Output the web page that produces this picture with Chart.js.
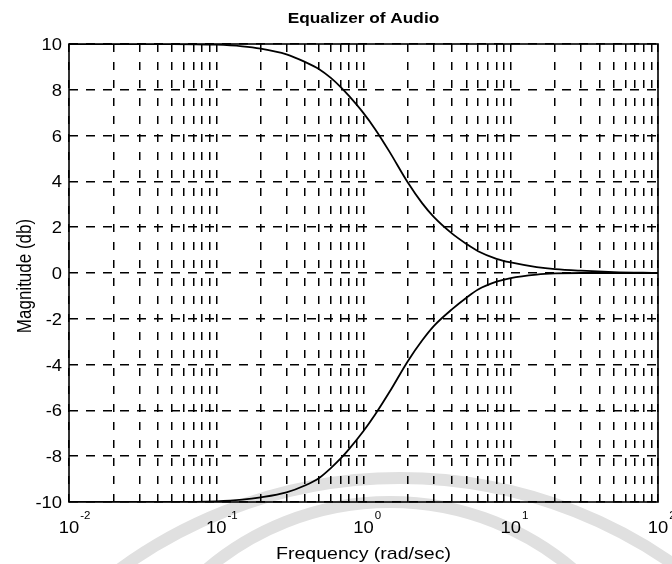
<!DOCTYPE html>
<html>
<head>
<meta charset="utf-8">
<title>Equalizer of Audio</title>
<script src="https://cdn.jsdelivr.net/npm/chart.js@4/dist/chart.umd.min.js"></script>
<style>
  html, body { margin: 0; padding: 0; background: #ffffff; }
  #wrap { width: 672px; height: 564px; }
</style>
</head>
<body>
<div id="wrap"><canvas id="c" width="672" height="564"></canvas></div>
<script>
// Frequency samples (rad/sec) and magnitude response of the two shelving sections (dB)
const frequencies = [0.01, 0.02, 0.05, 0.1, 0.15, 0.2, 0.3, 0.4, 0.5, 0.6, 0.7, 0.8, 1, 1.2, 1.5, 2, 2.5, 3, 4, 5, 6, 8, 10, 15, 20, 30, 50, 100];
const boostDb = [10, 10, 10, 9.97, 9.9, 9.8, 9.55, 9.22, 8.9, 8.52, 8.12, 7.72, 6.98, 6.28, 5.3, 3.95, 3.05, 2.45, 1.72, 1.27, 0.95, 0.62, 0.46, 0.26, 0.17, 0.1, 0.04, 0];
const cutDb = [-10, -10, -10, -9.97, -9.9, -9.8, -9.58, -9.28, -8.95, -8.52, -8.1, -7.68, -6.9, -6.18, -5.2, -3.85, -2.95, -2.32, -1.58, -1.08, -0.72, -0.38, -0.22, -0.07, -0.02, 0, 0, 0];

// Axis ticks
const decades = [0.01, 0.1, 1, 10, 100];
const decadeExponents = ['-2', '-1', '0', '1', '2'];
const magnitudeTicks = [-10, -8, -6, -4, -2, 0, 2, 4, 6, 8, 10];

// Text
const chartTitle = 'Equalizer of Audio';
const xAxisTitle = 'Frequency (rad/sec)';
const yAxisTitle = 'Magnitude (db)';

const FONT = '"Liberation Sans", Arial, Helvetica, sans-serif';
const TEXT_WIDEN = 1.15;   // wide Helvetica look

// Log grid: every integer multiple of each decade
const logGrid = [];
for (let d = 0; d < decades.length - 1; d++) {
  for (let m = 1; m <= 9; m++) logGrid.push(decades[d] * m);
}
logGrid.push(decades[decades.length - 1]);

const toPoints = (ys) => frequencies.map((f, i) => ({ x: f, y: ys[i] }));

// Draw text widened along its own horizontal direction
function wideText(ctx, text, x, y, font, align, angle, baseline) {
  ctx.save();
  ctx.translate(x, y);
  if (angle) ctx.rotate(angle);
  if (angle) ctx.scale(1, TEXT_WIDEN); else ctx.scale(TEXT_WIDEN, 1);
  ctx.font = font;
  ctx.textAlign = align;
  ctx.textBaseline = baseline || 'alphabetic';
  ctx.fillText(text, 0, 0);
  ctx.restore();
}

// Faint background arcs
const backdropArcs = {
  id: 'backdropArcs',
  beforeDraw(chart) {
    const ctx = chart.ctx;
    ctx.save();
    ctx.fillStyle = '#ffffff';
    ctx.fillRect(0, 0, chart.width, chart.height);
    ctx.strokeStyle = '#e0e0e0';
    ctx.lineWidth = 12;
    ctx.beginPath();
    ctx.arc(400, 954, 476, Math.PI, 2 * Math.PI);
    ctx.stroke();
    ctx.beginPath();
    ctx.arc(390, 785, 283, Math.PI, 2 * Math.PI);
    ctx.stroke();
    ctx.restore();
  }
};

// Frame, title, tick labels and axis titles
const annotations = {
  id: 'annotations',
  afterDraw(chart) {
    const ctx = chart.ctx;
    const a = chart.chartArea;
    const xs = chart.scales.x;
    const ys = chart.scales.y;
    ctx.save();
    ctx.strokeStyle = '#000';
    ctx.lineWidth = 1.6;
    ctx.setLineDash([]);
    ctx.strokeRect(a.left, a.top, a.right - a.left, a.bottom - a.top);
    ctx.fillStyle = '#000';

    wideText(ctx, chartTitle, (a.left + a.right) / 2, 23, 'bold 15px ' + FONT, 'center');

    magnitudeTicks.forEach((v) => {
      wideText(ctx, String(v), a.left - 7, ys.getPixelForValue(v) + 6, '16px ' + FONT, 'right');
    });

    decades.forEach((v, i) => {
      const px = xs.getPixelForValue(v);
      ctx.font = '16px ' + FONT;
      const w = ctx.measureText('10').width * TEXT_WIDEN;
      wideText(ctx, '10', px, 533, '16px ' + FONT, 'center');
      wideText(ctx, decadeExponents[i], px + w / 2 + 1, 519, '10px ' + FONT, 'left');
    });

    wideText(ctx, xAxisTitle, (a.left + a.right) / 2, 559, '17px ' + FONT, 'center');
    wideText(ctx, yAxisTitle, 31, (a.top + a.bottom) / 2 + 3, '17px ' + FONT, 'center', -Math.PI / 2);
    ctx.restore();
  }
};

new Chart(document.getElementById('c'), {
  type: 'line',
  data: {
    datasets: [
      { label: 'Boost', data: toPoints(boostDb), borderColor: '#000', borderWidth: 1.8, pointRadius: 0, cubicInterpolationMode: 'monotone', fill: false },
      { label: 'Cut', data: toPoints(cutDb), borderColor: '#000', borderWidth: 1.8, pointRadius: 0, cubicInterpolationMode: 'monotone', fill: false }
    ]
  },
  options: {
    responsive: false,
    animation: false,
    devicePixelRatio: 1,
    layout: { padding: { top: 44, right: 14, bottom: 0, left: 0 } },
    plugins: { legend: { display: false }, title: { display: false }, tooltip: { enabled: false } },
    scales: {
      x: {
        type: 'logarithmic',
        min: decades[0],
        max: decades[decades.length - 1],
        afterBuildTicks: (scale) => { scale.ticks = logGrid.map(v => ({ value: v })); },
        afterFit: (scale) => { scale.height = 62; },
        ticks: { display: false },
        grid: { color: '#000', lineWidth: 1.5, drawTicks: false },
        border: { display: false, dash: [8, 10] }
      },
      y: {
        type: 'linear',
        min: magnitudeTicks[0],
        max: magnitudeTicks[magnitudeTicks.length - 1],
        afterBuildTicks: (scale) => { scale.ticks = magnitudeTicks.map(v => ({ value: v })); },
        afterFit: (scale) => { scale.width = 69; },
        ticks: { display: false },
        grid: { color: '#000', lineWidth: 1.5, drawTicks: false },
        border: { display: false, dash: [9, 8] }
      }
    }
  },
  plugins: [backdropArcs, annotations]
});
</script>
</body>
</html>
